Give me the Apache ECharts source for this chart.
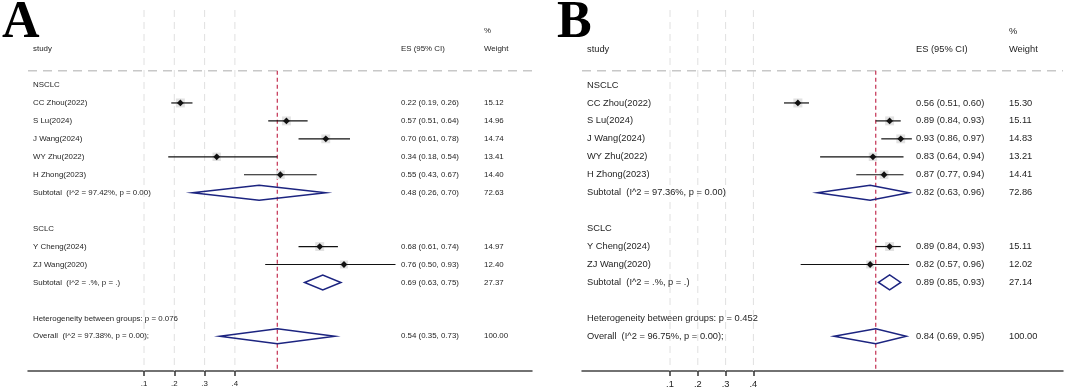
<!DOCTYPE html>
<html>
<head>
<meta charset="utf-8">
<script src="https://cdn.jsdelivr.net/npm/echarts@6/dist/echarts.min.js"></script>
<style>html,body{margin:0;padding:0;background:#fff}#chart{width:1065px;height:390px}</style>
</head>
<body>
<div id="chart"></div>
<script>
// ---------- data ----------
const groupNames = ['NSCLC', 'SCLC'];
const studyNames = ['CC Zhou(2022)', 'S Lu(2024)', 'J Wang(2024)', 'WY Zhu(2022)', 'H Zhong(2023)', 'Y Cheng(2024)', 'ZJ Wang(2020)'];
const studyGroup = [0, 0, 0, 0, 0, 1, 1];

const esA = [0.22, 0.57, 0.70, 0.34, 0.55, 0.68, 0.76];
const loA = [0.19, 0.51, 0.61, 0.18, 0.43, 0.61, 0.50];
const hiA = [0.26, 0.64, 0.78, 0.54, 0.67, 0.74, 0.93];
const wA  = [15.12, 14.96, 14.74, 13.41, 14.40, 14.97, 12.40];
const subEsA = [0.48, 0.69];
const subLoA = [0.26, 0.63];
const subHiA = [0.70, 0.75];
const subWA  = [72.63, 27.37];
const subI2A = ['97.42%', '.%'];
const subPA  = ['0.00', '.'];
const overallA = [0.54, 0.35, 0.73, 100.00];
const overallI2A = '97.38%';
const overallPA = '0.00';
const hetPA = '0.076';

const esB = [0.56, 0.89, 0.93, 0.83, 0.87, 0.89, 0.82];
const loB = [0.51, 0.84, 0.86, 0.64, 0.77, 0.84, 0.57];
const hiB = [0.60, 0.93, 0.97, 0.94, 0.94, 0.93, 0.96];
const wB  = [15.30, 15.11, 14.83, 13.21, 14.41, 15.11, 12.02];
const subEsB = [0.82, 0.89];
const subLoB = [0.63, 0.85];
const subHiB = [0.96, 0.93];
const subWB  = [72.86, 27.14];
const subI2B = ['97.36%', '.%'];
const subPB  = ['0.00', '.'];
const overallB = [0.84, 0.69, 0.95, 100.00];
const overallI2B = '96.75%';
const overallPB = '0.00';
const hetPB = '0.452';

const tickValues = [0.1, 0.2, 0.3, 0.4];
const tickLabels = ['.1', '.2', '.3', '.4'];

// ---------- layout ----------
const GRID_TOP = 10, GRID_BOTTOM = 371;
const ROW0_Y = 85, ROW_STEP = 17.95;
const yMin = (GRID_TOP - ROW0_Y) / ROW_STEP;
const yMax = (GRID_BOTTOM - ROW0_Y) / ROW_STEP;

const panels = [
  { letter: 'A', letterX: 2, left: 28, right: 532, anchorPx: 144, pxPerTenth: 30.3, cols: { study: 33, es: 401, w: 484 }, fs: 7.9,
    d: { es: esA, lo: loA, hi: hiA, w: wA, subEs: subEsA, subLo: subLoA, subHi: subHiA, subW: subWA, subI2: subI2A, subP: subPA,
         overall: overallA, overallI2: overallI2A, overallP: overallPA, hetP: hetPA } },
  { letter: 'B', letterX: 557, left: 582, right: 1063, anchorPx: 670, pxPerTenth: 27.8, cols: { study: 587, es: 916, w: 1009 }, fs: 9.3,
    d: { es: esB, lo: loB, hi: hiB, w: wB, subEs: subEsB, subLo: subLoB, subHi: subHiB, subW: subWB, subI2: subI2B, subP: subPB,
         overall: overallB, overallI2: overallI2B, overallP: overallPB, hetP: hetPB } }
];
panels.forEach(p => {
  p.min = 0.1 + (p.left - p.anchorPx) / (p.pxPerTenth * 10);
  p.max = 0.1 + (p.right - p.anchorPx) / (p.pxPerTenth * 10);
});

const f2 = v => v.toFixed(2);
const ciText = (e, l, h) => `${f2(e)} (${f2(l)}, ${f2(h)})`;

function buildRows(d) {
  const rows = [];
  rows.push({ r: -3, kind: 'text', texts: [['w', '%']] });
  rows.push({ r: -2, kind: 'text', texts: [['study', 'study'], ['es', 'ES (95% CI)'], ['w', 'Weight']] });
  let r = 0;
  groupNames.forEach((g, gi) => {
    rows.push({ r: r++, kind: 'text', texts: [['study', g]] });
    studyNames.forEach((s, si) => {
      if (studyGroup[si] !== gi) return;
      rows.push({ r: r++, kind: 'study', es: d.es[si], lo: d.lo[si], hi: d.hi[si], w: d.w[si],
        texts: [['study', s], ['es', ciText(d.es[si], d.lo[si], d.hi[si])], ['w', f2(d.w[si])]] });
    });
    rows.push({ r: r++, kind: 'diamond', es: d.subEs[gi], lo: d.subLo[gi], hi: d.subHi[gi],
      texts: [['study', `Subtotal  (I^2 = ${d.subI2[gi]}, p = ${d.subP[gi]})`], ['es', ciText(d.subEs[gi], d.subLo[gi], d.subHi[gi])], ['w', f2(d.subW[gi])]] });
    r++;
  });
  rows.push({ r: r++, kind: 'text', texts: [['study', `Heterogeneity between groups: p = ${d.hetP}`]] });
  rows.push({ r: r++, kind: 'diamond', es: d.overall[0], lo: d.overall[1], hi: d.overall[2],
    texts: [['study', `Overall  (I^2 = ${d.overallI2}, p = ${d.overallP});`], ['es', ciText(d.overall[0], d.overall[1], d.overall[2])], ['w', f2(d.overall[3])]] });
  return rows;
}

const chart = echarts.init(document.getElementById('chart'), null, { renderer: 'canvas' });
const series = [];

panels.forEach((p, pi) => {
  const rows = buildRows(p.d);
  const font = `${p.fs}px "Liberation Sans", Arial, sans-serif`;
  // decorations: vertical dashed grid lines, header separator, reference line
  series.push({
    type: 'custom', xAxisIndex: pi, yAxisIndex: pi, silent: true, z: 1,
    data: [[p.d.overall[0], 0]],
    renderItem: (params, api) => {
      const cs = params.coordSys;
      const children = [];
      tickValues.forEach(t => {
        const x = api.coord([t, 0])[0];
        children.push({ type: 'line', shape: { x1: x, y1: cs.y, x2: x, y2: cs.y + cs.height },
          style: { stroke: '#e0e0e0', lineWidth: 1, lineDash: [7, 5] } });
      });
      const ySep = api.coord([0, -0.8])[1];
      children.push({ type: 'line', shape: { x1: cs.x, y1: ySep, x2: cs.x + cs.width, y2: ySep },
        style: { stroke: '#c8c8c8', lineWidth: 1.5, lineDash: [9, 6] } });
      const xr = api.coord([p.d.overall[0], 0])[0];
      children.push({ type: 'line', shape: { x1: xr, y1: ySep, x2: xr, y2: cs.y + cs.height },
        style: { stroke: '#c8405f', lineWidth: 1.3, lineDash: [4, 3] } });
      return { type: 'group', children };
    }
  });
  // rows: CIs, boxes, diamonds, texts
  series.push({
    type: 'custom', xAxisIndex: pi, yAxisIndex: pi, silent: true, z: 3,
    data: rows.map(row => [p.min, row.r]),
    renderItem: (params, api) => {
      const row = rows[params.dataIndex];
      const y = api.coord([0, row.r])[1];
      const X = v => api.coord([v, row.r])[0];
      const children = [];
      if (row.kind === 'study') {
        const xe = X(row.es), s = Math.sqrt(row.w) * 2.3;
        children.push({ type: 'rect', shape: { x: xe - s / 2, y: y - s / 2, width: s, height: s },
          style: { fill: '#e2e2e2' } });
        children.push({ type: 'line', shape: { x1: X(row.lo), y1: y, x2: X(row.hi), y2: y },
          style: { stroke: '#111', lineWidth: 1.2 } });
        const m = 3.4;
        children.push({ type: 'polygon', shape: { points: [[xe - m, y], [xe, y - m], [xe + m, y], [xe, y + m]] },
          style: { fill: '#111' } });
      } else if (row.kind === 'diamond') {
        const h = 7.5;
        children.push({ type: 'polygon', shape: { points: [[X(row.lo), y], [X(row.es), y - h], [X(row.hi), y], [X(row.es), y + h]] },
          style: { fill: 'none', stroke: '#1c2480', lineWidth: 1.5 } });
      }
      row.texts.forEach(([col, str]) => {
        children.push({ type: 'text', style: { text: str, x: p.cols[col], y, fill: '#1e1e1e', font, align: 'left', verticalAlign: 'middle' } });
      });
      return { type: 'group', children };
    }
  });
});

const option = {
  animation: false,
  backgroundColor: '#ffffff',
  grid: panels.map(p => ({ left: p.left, top: GRID_TOP, width: p.right - p.left, height: GRID_BOTTOM - GRID_TOP, containLabel: false, outerBoundsMode: 'none' })),
  xAxis: panels.map((p, i) => ({
    type: 'value', gridIndex: i, min: p.min, max: p.max, position: 'bottom',
    axisLine: { show: true, onZero: false, lineStyle: { color: '#444', width: 1.5 } },
    axisTick: { show: true, customValues: tickValues, length: 5, lineStyle: { color: '#333', width: 1.5 } },
    axisLabel: { show: true, customValues: tickValues, margin: 9, fontSize: p.fs, color: '#222', fontFamily: '"Liberation Sans", Arial, sans-serif',
      formatter: v => { const k = tickValues.findIndex(t => Math.abs(t - v) < 1e-9); return k >= 0 ? tickLabels[k] : ''; } },
    splitLine: { show: false }
  })),
  yAxis: panels.map((p, i) => ({ type: 'value', gridIndex: i, inverse: true, min: yMin, max: yMax, show: false })),
  graphic: panels.map(p => ({
    type: 'text', left: p.letterX, top: -2, silent: true,
    style: { text: p.letter, fill: '#000', font: 'bold 52px "Liberation Serif", "Times New Roman", serif' }
  })),
  series
};
chart.setOption(option);
</script>
</body>
</html>
